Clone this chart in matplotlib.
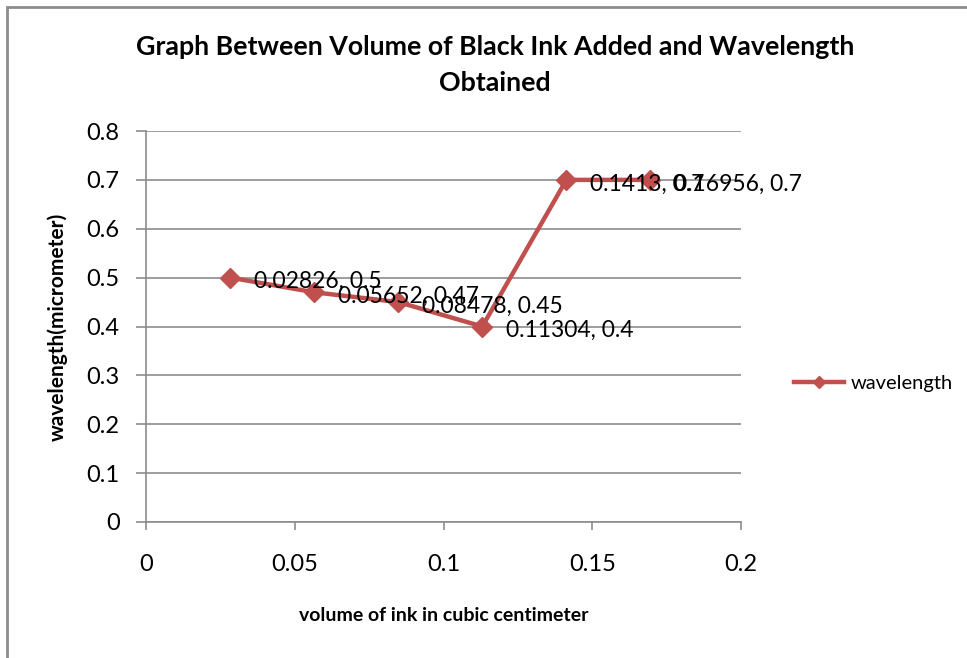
import numpy as np
import matplotlib.pyplot as plt
from matplotlib.patches import Rectangle

# data
volume = [0.02826, 0.05652, 0.08478, 0.11304, 0.1413, 0.16956]
wavelength = [0.5, 0.47, 0.45, 0.4, 0.7, 0.7]
point_labels = ["0.02826, 0.5", "0.05652, 0.47", "0.08478, 0.45",
                "0.11304, 0.4", "0.1413, 0.7", "0.16956, 0.7"]

plt.rcParams['font.family'] = ['Lato', 'DejaVu Sans']

fig = plt.figure(figsize=(9.67, 6.58), dpi=100)
# chart border (left/top visible, right/bottom cut)
fig.patches.append(Rectangle((7/967, -0.1), 1.2, (651/658)+0.1, transform=fig.transFigure,
                             fill=False, edgecolor='#8c8c8c', linewidth=2))

ax = fig.add_axes([146/967, 1-522/658, (741-146)/967, (522-131)/658])
line, = ax.plot(volume, wavelength, color='#C0504D', linewidth=3.2, marker='D',
                markersize=10.5, label='wavelength', zorder=3)

# data labels sit right of each point (they overlap in the original too)
for x, y, s in zip(volume, wavelength, point_labels):
    ax.annotate(s, (x, y), xytext=(17, -3), textcoords='offset points',
                ha='left', va='center', fontsize=16.5)

ax.set_xlim(0, 0.2)
ax.set_ylim(0, 0.8)
ax.set_xticks([0, 0.05, 0.1, 0.15, 0.2])
ax.set_xticklabels(['0', '0.05', '0.1', '0.15', '0.2'])
ax.set_yticks(np.arange(0, 0.81, 0.1))
ax.set_yticklabels(['0', '0.1', '0.2', '0.3', '0.4', '0.5', '0.6', '0.7', '0.8'])
ax.tick_params(axis='both', labelsize=17, color='#8c8c8c', width=1.2)
ax.tick_params(axis='x', pad=17, length=6)
ax.tick_params(axis='y', pad=12, length=7)
ax.yaxis.grid(True, color='#8c8c8c', linewidth=1.2)
ax.set_axisbelow(True)
for side in ['top', 'right']:
    ax.spines[side].set_visible(False)
for side in ['left', 'bottom']:
    ax.spines[side].set_color('#8c8c8c')
    ax.spines[side].set_linewidth(1.2)

ax.set_xlabel('volume of ink in cubic centimeter', fontsize=14, fontweight='bold', labelpad=23)
ax.set_ylabel('wavelength(micrometer)', fontsize=15, fontweight='bold', labelpad=13)

fig.text(0.512, 1-47/658, 'Graph Between Volume of Black Ink Added and Wavelength',
         ha='center', va='center', fontsize=19.3, fontweight='bold')
fig.text(0.512, 1-83/658, 'Obtained', ha='center', va='center', fontsize=19.3, fontweight='bold')

fig.legend(handles=[line], loc='center left', bbox_to_anchor=(786/967, 1-383/658),
           frameon=False, fontsize=14.5, handlelength=2.5, markerscale=0.6,
           borderaxespad=0, handletextpad=0.3)

fig.savefig('out.png', dpi=100)
